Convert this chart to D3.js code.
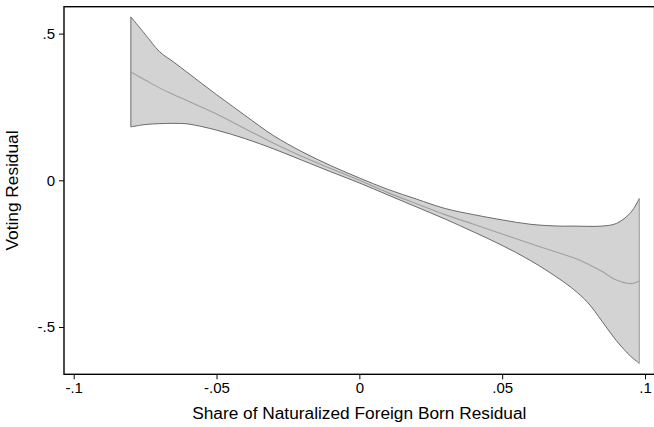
<!DOCTYPE html>
<html>
<head>
<meta charset="utf-8">
<script src="https://cdn.jsdelivr.net/npm/d3@7"></script>
<style>
  html, body { margin: 0; padding: 0; background: #fff; }
  svg { display: block; }
  text { font-family: "Liberation Sans", Arial, sans-serif; fill: #000; }
</style>
</head>
<body>
<svg id="chart" width="654" height="427"></svg>
<script>
// Data (local polynomial fit with 95% CI)
const xValues = [-0.08, -0.075, -0.07, -0.065, -0.06, -0.05, -0.04, -0.03, -0.02, -0.01, 0,
                 0.01, 0.02, 0.03, 0.04, 0.05, 0.06, 0.07, 0.075, 0.08, 0.085, 0.09, 0.095, 0.098];
const upperCI = [0.557, 0.498, 0.439, 0.403, 0.366, 0.292, 0.221, 0.152, 0.097, 0.050, 0.008,
                 -0.031, -0.064, -0.096, -0.117, -0.135, -0.150, -0.156, -0.156, -0.157, -0.156, -0.147, -0.110, -0.062];
const fitted  = [0.369, 0.342, 0.315, 0.292, 0.270, 0.226, 0.176, 0.126, 0.081, 0.040, 0.000,
                 -0.042, -0.080, -0.117, -0.150, -0.183, -0.216, -0.248, -0.264, -0.285, -0.311, -0.340, -0.352, -0.343];
const lowerCI = [0.182, 0.190, 0.193, 0.194, 0.192, 0.171, 0.142, 0.107, 0.068, 0.029, -0.009,
                 -0.050, -0.091, -0.132, -0.176, -0.222, -0.274, -0.336, -0.372, -0.417, -0.481, -0.547, -0.600, -0.624];
const xTicks = [-0.1, -0.05, 0, 0.05, 0.1];
const xTickLabels = ["-.1", "-.05", "0", ".05", ".1"];
const yTicks = [0.5, 0, -0.5];
const yTickLabels = [".5", "0", "-.5"];
const xTitle = "Share of Naturalized Foreign Born Residual";
const yTitle = "Voting Residual";

const svg = d3.select("#chart");
const plot = { left: 64, top: 6.7, right: 654.6, bottom: 374.3 };

const x = d3.scaleLinear().domain([-0.1, 0.1]).range([73.7, 645.0]);
const y = d3.scaleLinear().domain([0.5, -0.5]).range([33.6, 327.0]);

const rows = xValues.map((v, i) => ({ x: v, lo: lowerCI[i], hi: upperCI[i], fit: fitted[i] }));
const curve = d3.curveCatmullRom.alpha(0.5);

// CI band
const area = d3.area()
  .x(d => x(d.x)).y0(d => y(d.lo)).y1(d => y(d.hi))
  .curve(curve);
svg.append("path").datum(rows)
  .attr("d", area)
  .attr("fill", "#d3d3d3")
  .attr("stroke", "none");

const upLine = d3.line().x(d => x(d.x)).y(d => y(d.hi)).curve(curve);
const loLine = d3.line().x(d => x(d.x)).y(d => y(d.lo)).curve(curve);
const fitLine = d3.line().x(d => x(d.x)).y(d => y(d.fit)).curve(curve);

svg.append("path").datum(rows).attr("d", upLine)
  .attr("fill", "none").attr("stroke", "#4a4a4a").attr("stroke-width", 0.8);
svg.append("path").datum(rows).attr("d", loLine)
  .attr("fill", "none").attr("stroke", "#4a4a4a").attr("stroke-width", 0.8);
// closing edges
const first = rows[0], last = rows[rows.length - 1];
svg.append("line")
  .attr("x1", x(first.x)).attr("x2", x(first.x))
  .attr("y1", y(first.hi)).attr("y2", y(first.lo))
  .attr("stroke", "#4a4a4a").attr("stroke-width", 0.8);
svg.append("line")
  .attr("x1", x(last.x)).attr("x2", x(last.x))
  .attr("y1", y(last.hi)).attr("y2", y(last.lo))
  .attr("stroke", "#9a9a9a").attr("stroke-width", 1);

svg.append("path").datum(rows).attr("d", fitLine)
  .attr("fill", "none").attr("stroke", "#a0a0a0").attr("stroke-width", 1.1);

// frame
svg.append("rect")
  .attr("x", plot.left).attr("y", plot.top)
  .attr("width", plot.right - plot.left).attr("height", plot.bottom - plot.top)
  .attr("fill", "none").attr("stroke", "#000").attr("stroke-width", 1.4);

// x axis
const xAxis = d3.axisBottom(x).tickValues(xTicks)
  .tickFormat((d, i) => xTickLabels[i]).tickSize(5).tickPadding(3);
const gx = svg.append("g").attr("transform", `translate(0,${plot.bottom})`).call(xAxis);
gx.select(".domain").remove();
gx.selectAll("line").attr("stroke", "#000").attr("stroke-width", 1);
gx.selectAll("text").attr("font-size", 15).attr("font-family", "Liberation Sans, Arial, sans-serif").attr("fill", "#000");

// y axis
const yAxis = d3.axisLeft(y).tickValues(yTicks)
  .tickFormat((d, i) => yTickLabels[i]).tickSize(5).tickPadding(4);
const gy = svg.append("g").attr("transform", `translate(${plot.left},0)`).call(yAxis);
gy.select(".domain").remove();
gy.selectAll("line").attr("stroke", "#000").attr("stroke-width", 1);
gy.selectAll("text").attr("font-size", 15).attr("font-family", "Liberation Sans, Arial, sans-serif").attr("fill", "#000");

// titles
svg.append("text")
  .attr("x", (plot.left + plot.right) / 2).attr("y", 419)
  .attr("text-anchor", "middle").attr("font-size", 17.3)
  .text(xTitle);
svg.append("text")
  .attr("transform", `translate(18,${(plot.top + plot.bottom) / 2}) rotate(-90)`)
  .attr("text-anchor", "middle").attr("font-size", 17.3)
  .text(yTitle);
</script>
</body>
</html>
